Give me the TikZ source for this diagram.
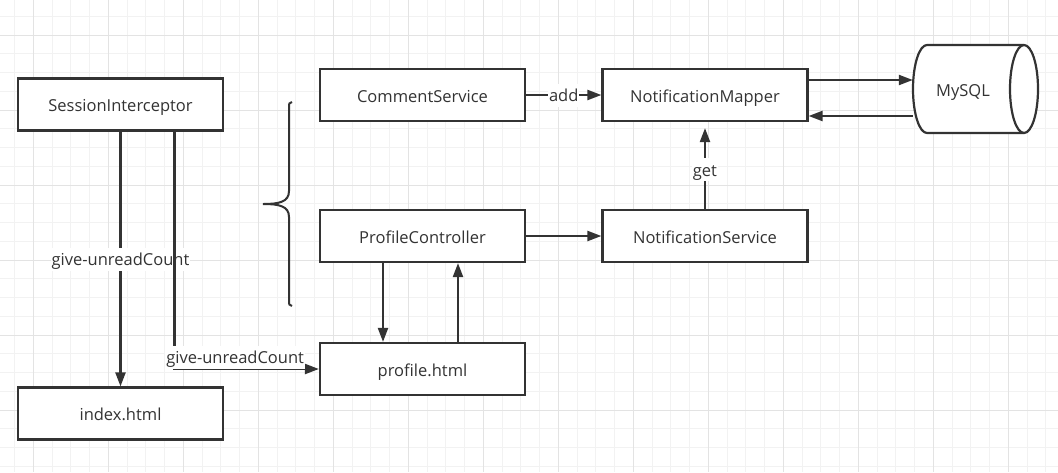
\documentclass[tikz,border=0pt]{standalone}
\usepackage{fontspec}
\setmainfont{Open Sans}
\usetikzlibrary{arrows.meta}
\definecolor{ink}{HTML}{333333}
\definecolor{gminor}{HTML}{F2F2F2}
\definecolor{gmajor}{HTML}{E3E3E3}
\tikzset{
  box/.style={draw=ink, line width=2.2pt, fill=white, minimum width=205pt, minimum height=52pt, inner sep=0pt, text height=18.8pt, text depth=4pt, font=\fontsize{16.5}{19}\selectfont, text=ink},
  arr/.style={draw=ink, line width=2.2pt, -{Triangle[length=14pt,width=10pt]}},
  lbl/.style={fill=white, inner sep=1pt, text height=17pt, text depth=4pt, font=\fontsize{16.5}{19}\selectfont, text=ink},
}
\begin{document}
\begin{tikzpicture}[x=1pt,y=-1pt]
\useasboundingbox (0,0) rectangle (1058,472);
\fill[white] (0,0) rectangle (1058,472);
% grid
\foreach \i in {0,...,56} {
  \pgfmathsetmacro\gx{14.58+18.75*\i}
  \draw[gminor, line width=1pt] (\gx,0) -- (\gx,472);
}
\foreach \i in {0,...,25} {
  \pgfmathsetmacro\gy{16.25+18.75*\i}
  \draw[gminor, line width=1pt] (0,\gy) -- (1058,\gy);
}
\foreach \i in {0,...,13} {
  \pgfmathsetmacro\gx{33.33+75*\i}
  \draw[gmajor, line width=1pt] (\gx,0) -- (\gx,472);
}
\foreach \i in {0,...,6} {
  \pgfmathsetmacro\gy{35+75*\i}
  \draw[gmajor, line width=1pt] (0,\gy) -- (1058,\gy);
}
% nodes
\node[box] (si) at (120.5,104.5) {SessionInterceptor};
\node[box] (idx) at (120.5,413.5) {index.html};
\node[box] (cs) at (422.5,95) {CommentService};
\node[box] (pc) at (422.5,236) {ProfileController};
\node[box] (ph) at (422.5,369) {profile.html};
\node[box] (nm) at (705,95) {NotificationMapper};
\node[box] (ns) at (705,236) {NotificationService};
% MySQL cylinder
\draw[ink, line width=2.2pt, fill=white] (927,133) arc[start angle=90, end angle=270, x radius=14, y radius=44] -- (1024,45) arc[start angle=270, end angle=450, x radius=14, y radius=44] -- cycle;
\draw[ink, line width=2.2pt] (1024,45) arc[start angle=270, end angle=90, x radius=14, y radius=44];
\node[minimum width=125pt, minimum height=88pt, inner sep=0pt, text height=18.8pt, text depth=4pt, font=\fontsize{16.5}{19}\selectfont, text=ink] (db) at (975.5,89) {\hspace*{-25pt}MySQL};
% brace
\draw[ink, line width=2pt] (292,102) .. controls (289,103) .. (289,108) -- (289,191) .. controls (289,202) and (279,204) .. (263,204) .. controls (279,204) and (289,206) .. (289,217) -- (289,300) .. controls (289,305) .. (292,306);
% connectors
\draw[arr] ([yshift=15pt]nm.east) -- ([yshift=15pt]nm.east -| db.west);
\draw[arr] ([yshift=-27pt]db.west) -- ([yshift=-27pt]db.west -| nm.east);
\draw[arr] (cs) -- node[lbl] {add} (nm);
\draw[arr] (pc) -- (ns);
\draw[arr, shorten >=6pt] (ns) -- node[lbl, pos=0.45] {get} (nm);
\draw[arr] ([xshift=-39.5pt]pc.south) -- ([xshift=-39.5pt]ph.north);
\draw[arr] ([xshift=35.5pt]ph.north) -- ([xshift=35.5pt]pc.south);
\draw[arr] (si) -- node[lbl, pos=0.5] {give-unreadCount} (idx);
\draw[arr] ([xshift=54pt]si.south) |- node[lbl, pos=0.71, yshift=12pt] {give-unreadCount} (ph.west);
\end{tikzpicture}
\end{document}
